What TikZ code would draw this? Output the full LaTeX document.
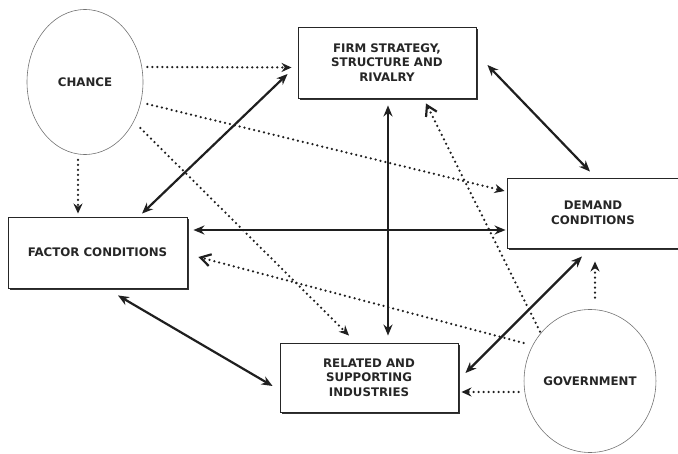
\documentclass[tikz,border=0pt]{standalone}
\usepackage{fontspec}
\setmainfont{DejaVu Sans}
\usetikzlibrary{shapes.geometric,arrows.meta,calc,shadows}
\begin{document}
\begin{tikzpicture}[x=1pt,y=-1pt,
  box/.style={draw=black!85,line width=0.9pt,fill=white,rectangle,inner sep=0pt,
    align=center,font=\fontsize{11.8}{14.5}\selectfont\bfseries,text=black!85,
    drop shadow={shadow xshift=2.4pt,shadow yshift=-2.4pt,opacity=1,fill=black!80}},
  oval/.style={draw=black!55,line width=0.6pt,ellipse,inner sep=0pt,text=black!85,
    font=\fontsize{11.8}{14.5}\selectfont\bfseries},
  solidarr/.style={line width=2.2pt,draw=black!88,{Stealth[length=11pt,width=9pt]}-{Stealth[length=11pt,width=9pt]}},
  dotarr/.style={line width=2.5pt,draw=black!88,line cap=round,dash pattern=on 0pt off 5pt,-{Stealth[length=10pt,width=9pt]}},
  dotopen/.style={line width=2.5pt,draw=black!88,line cap=round,dash pattern=on 0pt off 5pt,-{Straight Barb[length=10pt,width=12pt,line width=2.2pt]}}
]
\useasboundingbox (0,0) rectangle (678,454);
\node[oval,minimum width=116pt,minimum height=145pt] (chance) at (85,82) {CHANCE};
\node[oval,minimum width=114pt,minimum height=143pt] (gov) at (590,381) {GOVERNMENT};
\node[box,minimum width=178pt,minimum height=71pt] (firm) at (387,62.5) {FIRM STRATEGY,\\STRUCTURE AND\\RIVALRY};
\node[box,minimum width=172pt,minimum height=70pt] (demand) at (593,213) {DEMAND\\CONDITIONS};
\node[box,minimum width=179pt,minimum height=71pt] (factor) at (97.5,252.5) {FACTOR CONDITIONS};
\node[box,minimum width=178pt,minimum height=69pt] (related) at (369,377.5) {RELATED AND\\SUPPORTING\\INDUSTRIES};

% chance arrows
\draw[dotarr] ($(chance.east)+(4,-15)$) -- ($(firm.west)+(-6,5)$);
\draw[dotarr] ($(chance.east)+(4,22)$) -- ($(demand.west)+(-2,-22)$);
\draw[dotarr] ($(chance.east)+(-3,46)$) -- ($(related.north)+(-20,-7)$);
\draw[dotarr] ($(chance.south)+(-7,5)$) -- ($(factor.north)+(-19.5,-3)$);

% diamond arrows
\draw[solidarr] ($(firm.west)+(-10,11.5)$) -- ($(factor.north)+(44.5,-3)$);
\draw[solidarr] ($(firm.south)+(1,7)$) -- ($(related.north)+(19,-7)$);
\draw[solidarr] ($(firm.east)+(11,2.5)$) -- ($(demand.north)+(-3,-6)$);
\draw[solidarr] ($(factor.east)+(6,-22.5)$) -- ($(demand.west)+(-1,17)$);
\draw[solidarr] ($(related.east)+(7,-4.5)$) -- ($(demand.south)+(-11,8)$);
\draw[solidarr] ($(factor.south)+(20.5,7)$) -- ($(related.west)+(-7,8.5)$);

% government arrows
\draw[dotopen] ($(gov.north)+(-50,22.5)$) -- ($(firm.south)+(39,5)$);
\draw[dotopen] ($(gov.west)+(0,-38)$) -- ($(factor.east)+(11,4.5)$);
\draw[dotarr] ($(gov.north)+(5,-11.5)$) -- ($(demand.south)+(2,13)$);
\draw[dotarr] ($(gov.west)+(-5,11)$) -- ($(related.east)+(3,14.5)$);
\end{tikzpicture}
\end{document}
